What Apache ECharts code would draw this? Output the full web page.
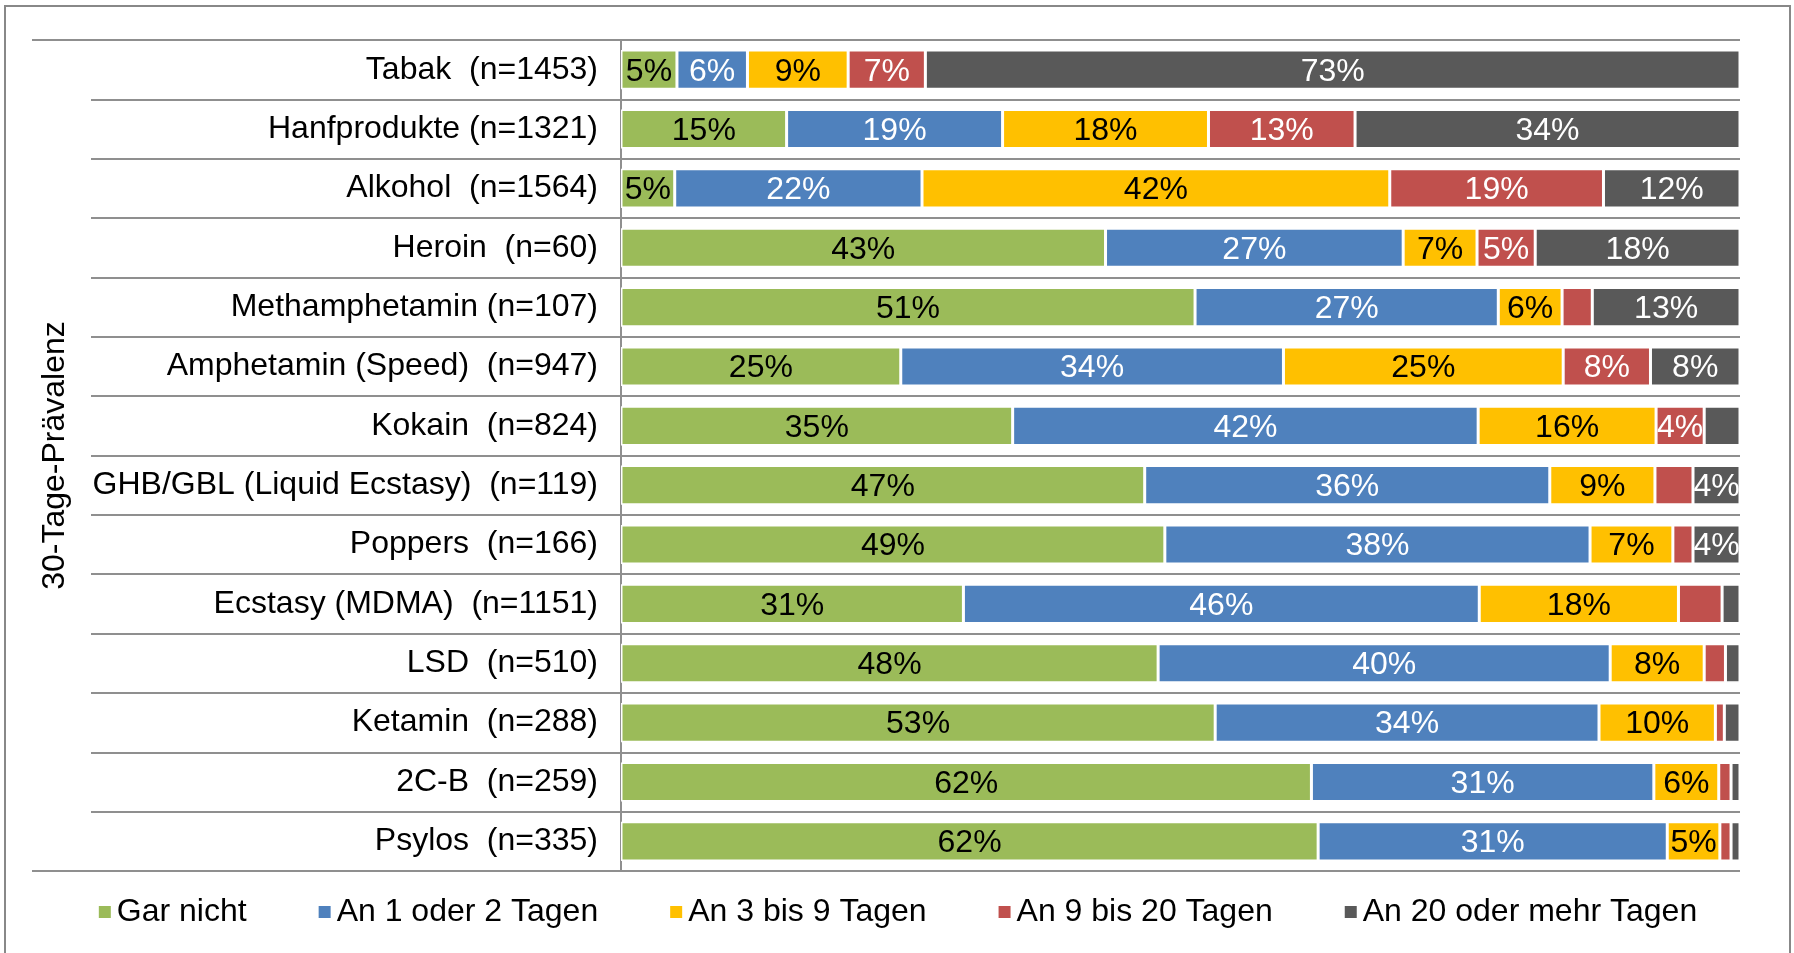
<!DOCTYPE html>
<html>
<head>
<meta charset="utf-8">
<script src="https://cdn.jsdelivr.net/npm/echarts@6/dist/echarts.min.js"></script>
<style>
html, body { margin: 0; padding: 0; background: #fff; }
#chart { width: 1794px; height: 953px; }
</style>
</head>
<body>
<div id="chart"></div>
<script>
// Kategorien (oben nach unten)
var categories = [
	'Tabak  (n=1453)',
	'Hanfprodukte (n=1321)',
	'Alkohol  (n=1564)',
	'Heroin  (n=60)',
	'Methamphetamin (n=107)',
	'Amphetamin (Speed)  (n=947)',
	'Kokain  (n=824)',
	'GHB/GBL (Liquid Ecstasy)  (n=119)',
	'Poppers  (n=166)',
	'Ecstasy (MDMA)  (n=1151)',
	'LSD  (n=510)',
	'Ketamin  (n=288)',
	'2C-B  (n=259)',
	'Psylos  (n=335)'
];
var seriesNames = ['Gar nicht', 'An 1 oder 2 Tagen', 'An 3 bis 9 Tagen', 'An 9 bis 20 Tagen', 'An 20 oder mehr Tagen'];
// Anteile in %
var garNicht   = [5.0, 14.8, 4.8, 43.3, 51.3, 25.0, 35.0, 46.8, 48.6, 30.6, 48.0, 53.1, 61.7, 62.3];
var tage1bis2  = [6.3, 19.3, 22.1, 26.6, 27.1, 34.2, 41.6, 36.2, 38.0, 46.1, 40.4, 34.3, 30.6, 31.2];
var tage3bis9  = [9.0, 18.4, 41.8, 6.6, 5.7, 25.0, 15.9, 9.4, 7.4, 17.8, 8.4, 10.4, 5.8, 4.7];
var tage9bis20 = [6.9, 13.1, 19.1, 5.2, 2.7, 7.8, 4.3, 3.4, 1.8, 3.9, 1.9, 0.8, 1.1, 1.0];
var tage20plus = [72.8, 34.4, 12.2, 18.3, 13.2, 8.0, 3.2, 4.2, 4.2, 1.6, 1.3, 1.4, 0.8, 0.8];

var colors = ['#9BBB59', '#4F81BD', '#FFC000', '#C0504D', '#595959'];
var labelColors = ['#000', '#fff', '#000', '#fff', '#fff'];
var font = "'Liberation Sans', Arial, sans-serif";
var fontSize = 32;
var lineColor = '#8f8f8f';

var myChart = echarts.init(document.getElementById('chart'));

var values = [garNicht, tage1bis2, tage3bis9, tage9bis20, tage20plus];
var series = [];
for (var i = 0; i < values.length; i++) {
	series.push({
		name: seriesNames[i],
		type: 'bar',
		stack: 'total',
		barWidth: '66%',
		data: values[i],
		itemStyle: {
			color: colors[i],
			borderColor: '#fff',
			borderWidth: 1.5
		},
		label: {
			show: true,
			position: 'inside',
			offset: [0, 2],
			color: labelColors[i],
			fontSize: fontSize,
			fontFamily: font,
			formatter: function(p) {
				// kleine Segmente ohne Beschriftung
				return p.value < 4 ? '' : Math.round(p.value) + '%';
			}
		}
	});
}

var option = {
	backgroundColor: '#fff',
	animation: false,
	color: colors,
	graphic: [{
		type: 'rect',
		shape: { x: 5, y: 6, width: 1785, height: 1000 },
		style: { fill: 'none', stroke: '#888', lineWidth: 2 },
		silent: true
	}],
	legend: {
		bottom: 20,
		left: 'center',
		icon: 'rect',
		itemWidth: 14,
		itemHeight: 14,
		itemGap: 70,
		textStyle: { fontSize: fontSize, fontFamily: font, color: '#000' },
		data: seriesNames
	},
	grid: {
		left: 621,
		right: 54,
		top: 40,
		bottom: 82,
		outerBoundsMode: 'none'
	},
	xAxis: {
		type: 'value',
		min: 0,
		max: 100,
		show: false
	},
	yAxis: [{
		type: 'category',
		inverse: true,
		data: categories,
		name: '30-Tage-Prävalenz',
		nameLocation: 'middle',
		nameGap: 550,
		nameTextStyle: { fontSize: fontSize, fontFamily: font, color: '#000' },
		axisLine: { show: true, lineStyle: { color: lineColor, width: 2 } },
		axisTick: { show: true, length: 530, lineStyle: { color: lineColor, width: 2 } },
		axisLabel: { interval: 0, margin: 23, padding: [4, 0, 0, 0], fontSize: fontSize, fontFamily: font, color: '#000' },
		splitLine: { show: true, lineStyle: { color: lineColor, width: 2 } }
	}, {
		// nur obere und untere Linie, länger nach links
		type: 'category',
		data: [''],
		position: 'left',
		axisLine: { show: false },
		axisLabel: { show: false },
		axisTick: { show: true, length: 589, lineStyle: { color: lineColor, width: 2 } },
		splitLine: { show: false }
	}],
	series: series
};
myChart.setOption(option);
</script>
</body>
</html>
